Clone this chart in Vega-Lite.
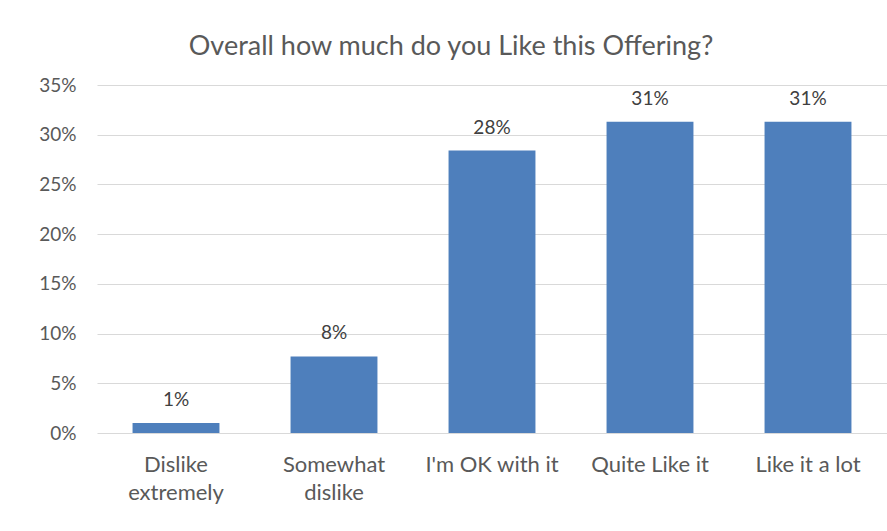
{
  "$schema": "https://vega.github.io/schema/vega-lite/v6.json",
  "autosize": "none",
  "padding": {"left": 97, "top": 85, "right": 0, "bottom": 98},
  "width": 790,
  "height": 348,
  "background": "white",
  "title": {
    "text": "Overall how much do you Like this Offering?",
    "font": "Lato",
    "fontSize": 27,
    "fontWeight": "normal",
    "color": "#595959",
    "anchor": "middle",
    "dx": -41,
    "offset": 15
  },
  "data": {
    "values": [
      {"response": "Dislike\nextremely", "share": 0.010},
      {"response": "Somewhat\ndislike", "share": 0.077},
      {"response": "I'm OK with it", "share": 0.284},
      {"response": "Quite Like it", "share": 0.313},
      {"response": "Like it a lot", "share": 0.313}
    ]
  },
  "config": {
    "view": {"stroke": null},
    "font": "Lato"
  },
  "encoding": {
    "x": {
      "field": "response",
      "type": "nominal",
      "sort": null,
      "scale": {"paddingInner": 0.45, "paddingOuter": 0.225},
      "axis": {
        "title": null,
        "labelAngle": 0,
        "domain": false,
        "ticks": false,
        "labelFont": "Lato",
        "labelFontSize": 22,
        "labelColor": "#595959",
        "labelPadding": 21,
        "labelLineHeight": 28,
        "labelExpr": "split(datum.label, '\\n')"
      }
    },
    "y": {
      "field": "share",
      "type": "quantitative",
      "scale": {"domain": [0, 0.35], "nice": false},
      "axis": {
        "title": null,
        "format": ".0%",
        "values": [0, 0.05, 0.1, 0.15, 0.2, 0.25, 0.3, 0.35],
        "domain": false,
        "ticks": false,
        "grid": true,
        "gridColor": "#d9d9d9",
        "gridWidth": 1,
        "labelFont": "Lato",
        "labelFontSize": 19,
        "labelColor": "#595959",
        "labelPadding": 21
      }
    }
  },
  "layer": [
    {"mark": {"type": "bar", "color": "#4e7fbc"}},
    {
      "mark": {"type": "text", "dy": -23, "font": "Lato", "fontSize": 19, "color": "#404040"},
      "encoding": {"text": {"field": "share", "type": "quantitative", "format": ".0%"}}
    }
  ]
}
